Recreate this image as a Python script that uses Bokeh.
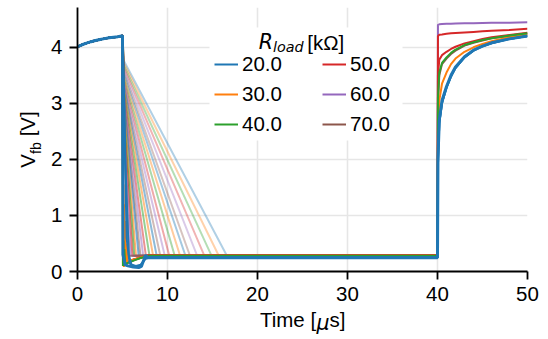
from bokeh.embed import file_html
from bokeh.models import (BoxAnnotation, FixedTicker, Label, Legend, LegendItem,
                          LinearAxis, Range1d)
from bokeh.plotting import figure
from bokeh.resources import INLINE

# ---------------------------------------------------------------- data
R_LOAD = ["20.0", "30.0", "40.0", "50.0", "60.0", "70.0"]
COLORS = ["#1f77b4", "#ff7f0e", "#2ca02c", "#d62728", "#9467bd", "#8c564b"]

X_TICKS = [0, 10, 20, 30, 40, 50]
Y_TICKS = [0, 1, 2, 3, 4]

# charging phase before the load step (common to every run), t in us, V_fb in V
t_pre = [0.0, 0.5, 1.0, 1.5, 2.0, 2.5, 3.0, 3.5, 4.0, 4.5, 5.0]
v_pre = [4.01, 4.045, 4.075, 4.10, 4.12, 4.14, 4.155, 4.17, 4.18, 4.19, 4.205]

# slow-discharge runs: colour index, voltage right after the step,
# time when the floor is reached
ramp_color = [0, 1, 2, 3, 4, 5] * 4
ramp_v0 = [3.76, 3.72, 3.68, 3.64, 3.60, 3.56,
           3.52, 3.48, 3.44, 3.40, 3.36, 3.32,
           3.30, 3.25, 3.20, 3.15, 3.10, 3.05,
           3.00, 2.90, 2.80, 2.70, 2.60, 2.50]
ramp_t_floor = [16.6, 15.7, 14.9, 14.1, 13.3, 12.5,
                12.0, 11.4, 10.8, 10.2, 9.7, 9.2,
                8.8, 8.4, 8.0, 7.6, 7.3, 7.0,
                6.8, 6.5, 6.3, 6.1, 5.9, 5.7]
ramp_t_step = 5.15
ramp_v_floor = 0.28
ramp_t_end = 40.0

# fast-discharge runs: step at 5 us, ringing, floor, recovery at 40 us
t_fall_blue = [5.0, 5.05, 5.3, 5.6, 6.2, 6.8, 7.1, 7.35, 7.55, 7.8]
v_fall_blue = [4.205, 0.3, 0.12, 0.10, 0.08, 0.07, 0.09, 0.20, 0.29, 0.245]
t_fall_blue2 = [5.0, 5.3, 5.7, 6.0, 6.5, 7.0, 7.5, 8.0]
v_fall_blue2 = [4.205, 2.0, 0.30, 0.12, 0.10, 0.12, 0.22, 0.25]
t_fall_blue3 = [5.0, 5.2, 5.45, 5.8, 6.4, 7.0, 7.6, 8.1]
v_fall_blue3 = [4.205, 3.0, 0.60, 0.14, 0.09, 0.10, 0.24, 0.25]
t_fall_orange = [5.0, 5.05, 5.1, 5.15, 5.2, 5.25, 5.3, 5.35, 5.45, 5.6, 6.0, 7.0, 8.0]
v_fall_orange = [4.205, 0.10, 1.55, 0.08, 1.20, 0.10, 0.90, 0.12, 0.50, 0.15, 0.20, 0.25, 0.28]
t_fall_green = [5.0, 5.05, 5.1, 5.15, 5.2, 5.3, 5.5, 6.0, 7.0, 8.0]
v_fall_green = [4.205, 0.10, 0.55, 0.10, 0.40, 0.12, 0.15, 0.18, 0.24, 0.28]
t_fall_red = [5.0, 5.08, 5.4, 6.0, 7.0, 8.0]
v_fall_red = [4.205, 0.15, 0.15, 0.20, 0.25, 0.29]
t_fall_purple = [5.0, 5.1, 5.5, 6.5, 8.0]
v_fall_purple = [4.205, 0.15, 0.14, 0.22, 0.29]
t_fall_brown = [5.0, 5.12, 5.6, 6.5, 8.0]
v_fall_brown = [4.205, 0.14, 0.15, 0.22, 0.29]

t_rec = [40.0, 40.05, 40.2, 40.5, 41.0, 41.5, 42.0, 43.0, 44.0, 45.0, 46.0, 48.0, 50.0]
v_rec_blue = [0.245, 2.0, 2.70, 3.05, 3.30, 3.50, 3.65, 3.83, 3.95, 4.02, 4.08, 4.15, 4.20]
v_rec_blue2 = [0.25, 1.9, 2.65, 3.00, 3.28, 3.48, 3.63, 3.82, 3.94, 4.02, 4.07, 4.15, 4.20]
v_rec_orange = [0.28, 2.3, 3.05, 3.35, 3.55, 3.70, 3.80, 3.92, 4.00, 4.06, 4.11, 4.18, 4.23]
v_rec_green = [0.28, 3.1, 3.55, 3.72, 3.82, 3.90, 3.96, 4.04, 4.09, 4.13, 4.16, 4.21, 4.25]
v_rec_red = [0.29, 4.20, 4.225, 4.23, 4.24, 4.25, 4.255, 4.265, 4.275, 4.285, 4.295, 4.31, 4.33]
v_rec_red2 = [0.29, 3.50, 3.78, 3.86, 3.92, 3.97, 4.01, 4.07, 4.11, 4.15, 4.18, 4.22, 4.26]
v_rec_purple = [0.30, 4.40, 4.41, 4.415, 4.42, 4.42, 4.425, 4.43, 4.43, 4.435, 4.44, 4.44, 4.445]
v_rec_brown = [0.30, 3.00, 3.50, 3.70, 3.80, 3.88, 3.94, 4.03, 4.08, 4.12, 4.16, 4.20, 4.24]

# ---------------------------------------------------------------- figure
FRAME_LEFT, FRAME_TOP, FRAME_RIGHT, FRAME_BOTTOM = 77, 7, 527, 271
X_MAX, Y_MAX = 50.0, 4.71
FONT = "Liberation Sans"
MATH_FONT = "DejaVu Sans"
FS = 20.5
FS_SUB = FS * 0.7

p = figure(width=548, height=339, x_range=Range1d(0, X_MAX), y_range=Range1d(0, Y_MAX),
           output_backend="svg", toolbar_location=None,
           min_border_left=FRAME_LEFT, min_border_right=548 - FRAME_RIGHT,
           min_border_top=FRAME_TOP, min_border_bottom=339 - FRAME_BOTTOM)
p.outline_line_color = None
p.background_fill_color = "white"
p.border_fill_color = "white"

p.xaxis.ticker = FixedTicker(ticks=X_TICKS)
p.yaxis.ticker = FixedTicker(ticks=Y_TICKS)
for ax in (p.xaxis[0], p.yaxis[0]):
    ax.axis_line_color = "black"
    ax.axis_line_width = 1.8
    ax.major_tick_line_color = "black"
    ax.major_tick_line_width = 1.8
    ax.major_tick_out = 8
    ax.major_tick_in = 0
    ax.minor_tick_line_color = None
    ax.major_label_text_font = FONT
    ax.major_label_text_font_size = f"{FS}px"
    ax.major_label_text_color = "black"
    ax.major_label_standoff = 7

p.grid.grid_line_color = "#e6e6e6"
p.grid.grid_line_width = 1.6

# faint slow-discharge traces
alphas = [0.35] * 6 + [0.4] * 6 + [0.5] * 6 + [0.6] * 6
for c, v0, tf, a in zip(ramp_color, ramp_v0, ramp_t_floor, alphas):
    xs = t_pre + [ramp_t_step, tf, ramp_t_end]
    ys = v_pre + [v0, ramp_v_floor, ramp_v_floor]
    p.line(xs, ys, color=COLORS[c], line_alpha=a, line_width=2)


def trace(t_fall, v_fall, v_rec, color, width):
    xs = t_pre + t_fall + t_rec
    ys = v_pre + v_fall + v_rec
    return p.line(xs, ys, color=color, line_width=width)


r_brown = trace(t_fall_brown, v_fall_brown, v_rec_brown, COLORS[5], 2)
r_purple = trace(t_fall_purple, v_fall_purple, v_rec_purple, COLORS[4], 2)
r_red = trace(t_fall_red, v_fall_red, v_rec_red, COLORS[3], 2)
r_red2 = trace(t_fall_red, v_fall_red, v_rec_red2, COLORS[3], 2)
r_orange = trace(t_fall_orange, v_fall_orange, v_rec_orange, COLORS[1], 2)
r_green = trace(t_fall_green, v_fall_green, v_rec_green, COLORS[2], 2)
r_blue3 = trace(t_fall_blue3, v_fall_blue3, v_rec_blue2, COLORS[0], 2)
r_blue2 = trace(t_fall_blue2, v_fall_blue2, v_rec_blue2, COLORS[0], 2)
r_blue = trace(t_fall_blue, v_fall_blue, v_rec_blue, COLORS[0], 3)

# white panel behind the legend
p.add_layout(BoxAnnotation(left=209 - FRAME_LEFT, right=402 - FRAME_LEFT,
                           top=FRAME_BOTTOM - 27, bottom=FRAME_BOTTOM - 140,
                           left_units="screen", right_units="screen",
                           top_units="screen", bottom_units="screen",
                           fill_color="white", fill_alpha=1.0, line_color=None))


def make_legend(items, left_px):
    lg = Legend(items=items, location=(left_px - FRAME_LEFT, FRAME_BOTTOM - 137.5),
                label_text_font=FONT, label_text_font_size=f"{FS}px",
                label_text_color="black", glyph_width=24, glyph_height=20,
                label_height=23, label_standoff=4, spacing=6, padding=2, margin=0,
                background_fill_alpha=0.0, border_line_alpha=0.0)
    p.add_layout(lg)


make_legend([LegendItem(label=R_LOAD[0], renderers=[r_blue2]),
             LegendItem(label=R_LOAD[1], renderers=[r_orange]),
             LegendItem(label=R_LOAD[2], renderers=[r_green])], 212)
make_legend([LegendItem(label=R_LOAD[3], renderers=[r_red]),
             LegendItem(label=R_LOAD[4], renderers=[r_purple]),
             LegendItem(label=R_LOAD[5], renderers=[r_brown])], 320)


def text(s, cx, cy, size=FS, font=FONT, style="normal"):
    p.add_layout(Label(x=cx - FRAME_LEFT, y=FRAME_BOTTOM - cy,
                       x_units="screen", y_units="screen", text=s,
                       text_font=font, text_font_size=f"{size}px",
                       text_font_style=style, text_color="black",
                       text_align="left", text_baseline="alphabetic"))


# legend title: R_load [kOhm]
text("R", 258.3, 41.7, font=MATH_FONT, style="italic")
text("load", 272.5, 46.0, size=FS_SUB, font=MATH_FONT, style="italic")
text("[kΩ]", 306.7, 41.7)


# axis titles with mixed styles: each piece is a label of a tick-less axis
# stacked next to the main axis, centred on the pixel position given
def px_to_t(px):
    return round((px - FRAME_LEFT) * X_MAX / (FRAME_RIGHT - FRAME_LEFT), 3)


def px_to_v(py):
    return round((FRAME_BOTTOM - py) * Y_MAX / (FRAME_BOTTOM - FRAME_TOP), 3)


def title_axis(side, centers, pieces, size, standoff, font=FONT, style="normal"):
    conv = px_to_t if side == "below" else px_to_v
    ticks = [conv(c) for c in centers]
    ax = LinearAxis(ticker=FixedTicker(ticks=ticks),
                    major_label_overrides=dict(zip(ticks, pieces)),
                    axis_line_color=None, major_tick_line_color=None,
                    minor_tick_line_color=None, major_tick_out=0, major_tick_in=0,
                    major_label_standoff=standoff,
                    major_label_text_font=font, major_label_text_font_size=f"{size}px",
                    major_label_text_font_style=style, major_label_text_color="black")
    if side == "left":
        ax.major_label_orientation = "parallel"
    p.add_layout(ax, side)


# y title  V_fb [V]   (subscript column first, main-size pieces pulled onto it)
title_axis("left", [147.6], ["fb"], FS_SUB, 4)
title_axis("left", [160.4, 123.3], ["V", "[V]"], FS, -14)

# x title  Time [mu s]
title_axis("below", [287.5, 337.0], ["Time [", "s]"], FS, 4)
title_axis("below", [322.5], ["μ"], FS, -23, font=MATH_FONT, style="italic")

open("out.html", "w").write(file_html(p, INLINE))
